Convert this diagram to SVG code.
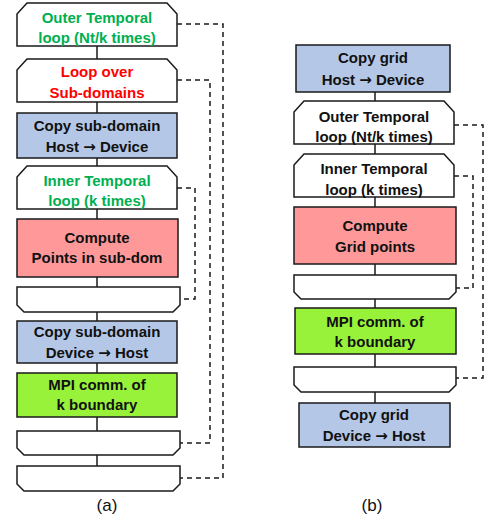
<svg xmlns="http://www.w3.org/2000/svg" width="492" height="520" viewBox="0 0 492 520">
<style>
.b{stroke:#1a1a1a;stroke-width:1.5;fill:#fff}
.blue{fill:#b4c7e7}
.pink{fill:#ff9999}
.grn{fill:#99f23a}
.t{font-family:"Liberation Sans",Arial,sans-serif;font-weight:bold;font-size:15px;text-anchor:middle;fill:#111}
.g{fill:#00b050}
.r{fill:#ff0000}
.ar{font-family:"DejaVu Sans",sans-serif;font-weight:bold}
.c{stroke:#1a1a1a;stroke-width:1.5;fill:none}
.d{stroke:#1a1a1a;stroke-width:1.5;fill:none;stroke-dasharray:5 4}
.lab{font-family:"Liberation Sans",Arial,sans-serif;font-size:17px;text-anchor:middle;fill:#111}
</style>
<g id="connectors">
<path class="c" d="M97,46V59M97,102V113M97,158V166M97,209V219M97,277V287M97,312V321M97,363V373M97,417V431M97,455V466"/>
<path class="c" d="M375,92V101M375,144V154M375,197V207M375,264V275M375,299V308M375,354V367M375,392V403"/>
<path class="d" d="M177,24H223V478H180"/>
<path class="d" d="M177,80H210V443H180"/>
<path class="d" d="M177,188H195V299H180"/>
<path class="d" d="M454,125H483V378H456"/>
<path class="d" d="M454,176H473V288H456"/>
</g>
<g id="a-outer">
<path class="b" d="M17,46V14L27,3H167L177,14V46Z"/>
<text class="t g" x="97" y="23">Outer Temporal</text>
<text class="t g" x="97" y="43">loop (Nt/k times)</text>
</g>
<g id="a-loopsub">
<path class="b" d="M17,102V70L27,59H167L177,70V102Z"/>
<text class="t r" x="97" y="77">Loop over</text>
<text class="t r" x="97" y="98">Sub-domains</text>
</g>
<g id="a-copyhd">
<rect class="b blue" x="17" y="113" width="160" height="45"/>
<text class="t" x="97" y="131">Copy sub-domain</text>
<text class="t" x="97" y="152">Host <tspan class="ar">→</tspan> Device</text>
</g>
<g id="a-inner">
<path class="b" d="M17,209V177L27,166H167L177,177V209Z"/>
<text class="t g" x="97" y="186">Inner Temporal</text>
<text class="t g" x="97" y="206">loop (k times)</text>
</g>
<g id="a-compute">
<rect class="b pink" x="17" y="219" width="161" height="58"/>
<text class="t" x="97" y="243">Compute</text>
<text class="t" x="97" y="263">Points in sub-dom</text>
</g>
<g id="a-innerend">
<path class="b" d="M17,287H180V305L173,312H24L17,305Z"/>
</g>
<g id="a-copydh">
<rect class="b blue" x="17" y="321" width="160" height="42"/>
<text class="t" x="97" y="337">Copy sub-domain</text>
<text class="t" x="97" y="358">Device <tspan class="ar">→</tspan> Host</text>
</g>
<g id="a-mpi">
<rect class="b grn" x="17" y="373" width="160" height="44"/>
<text class="t" x="97" y="390">MPI comm. of</text>
<text class="t" x="97" y="410">k boundary</text>
</g>
<g id="a-subend">
<path class="b" d="M17,431H180V448L173,455H24L17,448Z"/>
</g>
<g id="a-outerend">
<path class="b" d="M17,466H180V484L173,491H24L17,484Z"/>
</g>
<text class="lab" x="107" y="511">(a)</text>
<g id="b-copyhd">
<rect class="b blue" x="296" y="45" width="154" height="47"/>
<text class="t" x="373" y="63">Copy grid</text>
<text class="t" x="373" y="85">Host <tspan class="ar">→</tspan> Device</text>
</g>
<g id="b-outer">
<path class="b" d="M294,144V112L304,101H444L454,112V144Z"/>
<text class="t" x="374" y="122">Outer Temporal</text>
<text class="t" x="374" y="142">loop (Nt/k times)</text>
</g>
<g id="b-inner">
<path class="b" d="M294,197V165L304,154H444L454,165V197Z"/>
<text class="t" x="374" y="174">Inner Temporal</text>
<text class="t" x="374" y="195">loop (k times)</text>
</g>
<g id="b-compute">
<rect class="b pink" x="294" y="207" width="162" height="57"/>
<text class="t" x="375" y="231">Compute</text>
<text class="t" x="375" y="252">Grid points</text>
</g>
<g id="b-innerend">
<path class="b" d="M294,275H456V292L449,299H301L294,292Z"/>
</g>
<g id="b-mpi">
<rect class="b grn" x="295" y="308" width="161" height="46"/>
<text class="t" x="375" y="327">MPI comm. of</text>
<text class="t" x="375" y="347">k boundary</text>
</g>
<g id="b-outerend">
<path class="b" d="M294,367H456V385L449,392H301L294,385Z"/>
</g>
<g id="b-copydh">
<rect class="b blue" x="299" y="403" width="151" height="44"/>
<text class="t" x="374" y="420">Copy grid</text>
<text class="t" x="374" y="441">Device <tspan class="ar">→</tspan> Host</text>
</g>
<text class="lab" x="372" y="511">(b)</text>
</svg>
